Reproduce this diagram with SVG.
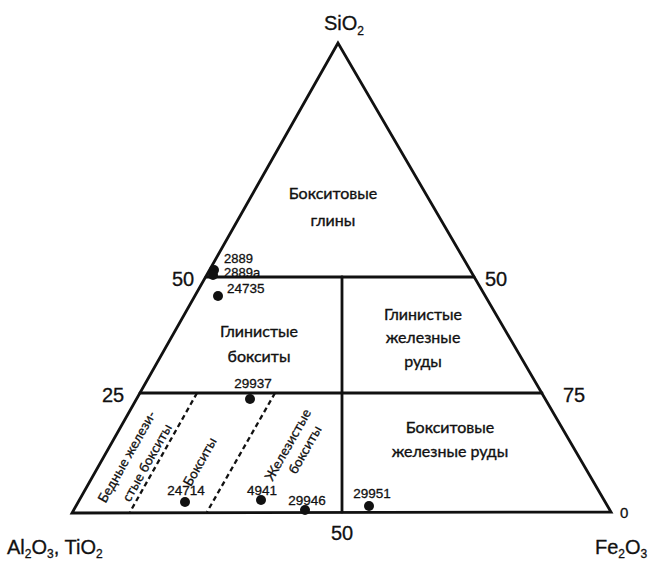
<svg xmlns="http://www.w3.org/2000/svg" width="650" height="563" viewBox="0 0 650 563">
<style>
.ln{stroke:#111;stroke-width:2.8;fill:none;stroke-linecap:round;stroke-linejoin:miter}
.ds{stroke:#111;stroke-width:2.3;fill:none;stroke-dasharray:5 3.5}
.ax{font-family:"Liberation Sans",Arial,sans-serif;font-size:20px;fill:#111;stroke:#111;stroke-width:0.3}
.sub{font-size:12px}
.rg{font-family:Lato,"Open Sans",sans-serif;font-size:16px;fill:#111;text-anchor:middle;stroke:#111;stroke-width:0.35}
.rt{font-family:Lato,"Open Sans",sans-serif;font-size:13.5px;fill:#111;text-anchor:middle;stroke:#111;stroke-width:0.3}
.pl{font-family:"Liberation Sans",Arial,sans-serif;font-size:13.5px;fill:#111;stroke:#111;stroke-width:0.3}
.pt{fill:#111}
</style>
<rect width="650" height="563" fill="#fff"/>
<g id="connectors">
<path class="ln" d="M338,43 L72,513 L611,512 Z"/>
<line class="ln" x1="206" y1="277" x2="474" y2="277"/>
<line class="ln" x1="140" y1="393" x2="542" y2="393"/>
<line class="ln" x1="342" y1="277" x2="342" y2="512"/>
<line class="ds" x1="197" y1="393" x2="130" y2="512"/>
<line class="ds" x1="275" y1="393" x2="207" y2="512"/>
</g>
<g id="axis-labels">
<text class="ax" x="324" y="30">SiO<tspan class="sub" dy="5">2</tspan></text>
<text class="ax" x="7" y="554">Al<tspan class="sub" dy="4">2</tspan><tspan dy="-4">O</tspan><tspan class="sub" dy="4">3</tspan><tspan dy="-4">, TiO</tspan><tspan class="sub" dy="4">2</tspan></text>
<text class="ax" x="595" y="554">Fe<tspan class="sub" dy="4">2</tspan><tspan dy="-4">O</tspan><tspan class="sub" dy="4">3</tspan></text>
<text class="ax" x="172" y="286">50</text>
<text class="ax" x="485" y="286">50</text>
<text class="ax" x="102" y="402">25</text>
<text class="ax" x="563" y="402">75</text>
<text class="ax" x="331" y="540">50</text>
<text class="ax" x="620" y="518" style="font-size:15px">0</text>
</g>
<g id="region-bauxite-clays">
<text class="rg" x="333" y="199">Бокситовые</text>
<text class="rg" x="333" y="226">глины</text>
</g>
<g id="region-clay-bauxites">
<text class="rg" x="259" y="337">Глинистые</text>
<text class="rg" x="259" y="362">бокситы</text>
</g>
<g id="region-clay-iron-ores">
<text class="rg" x="423" y="320">Глинистые</text>
<text class="rg" x="423" y="343">железные</text>
<text class="rg" x="423" y="367">руды</text>
</g>
<g id="region-bauxite-iron-ores">
<text class="rg" x="450" y="433">Бокситовые</text>
<text class="rg" x="450" y="457">железные руды</text>
</g>
<g id="region-poor-ferruginous-bauxites">
<text class="rt" transform="translate(131,459) rotate(-60.5)">Бедные желези-</text>
<text class="rt" transform="translate(151,465) rotate(-60.5)">стые бокситы</text>
</g>
<g id="region-bauxites">
<text class="rt" transform="translate(204,464) rotate(-60.5)">Бокситы</text>
</g>
<g id="region-ferruginous-bauxites">
<text class="rt" transform="translate(292,447) rotate(-60.5)">Железистые</text>
<text class="rt" transform="translate(309,452) rotate(-60.5)">бокситы</text>
</g>
<g id="p2889"><circle class="pt" cx="214" cy="270" r="5"/><text class="pl" x="224" y="263" style="font-size:13px">2889</text></g>
<g id="p2889a"><circle class="pt" cx="213" cy="275" r="5"/><text class="pl" x="224" y="277" style="font-size:13px">2889a</text></g>
<g id="p24735"><circle class="pt" cx="218" cy="296" r="5"/><text class="pl" x="227" y="293">24735</text></g>
<g id="p29937"><circle class="pt" cx="250" cy="399" r="5"/><text class="pl" x="253" y="388" text-anchor="middle">29937</text></g>
<g id="p24714"><circle class="pt" cx="185" cy="502" r="5"/><text class="pl" x="186" y="495" text-anchor="middle">24714</text></g>
<g id="p4941"><circle class="pt" cx="261" cy="500" r="5"/><text class="pl" x="262" y="495" text-anchor="middle">4941</text></g>
<g id="p29946"><circle class="pt" cx="305" cy="510" r="5"/><text class="pl" x="307" y="505" text-anchor="middle">29946</text></g>
<g id="p29951"><circle class="pt" cx="369" cy="506" r="5"/><text class="pl" x="372" y="498" text-anchor="middle">29951</text></g>
</svg>
